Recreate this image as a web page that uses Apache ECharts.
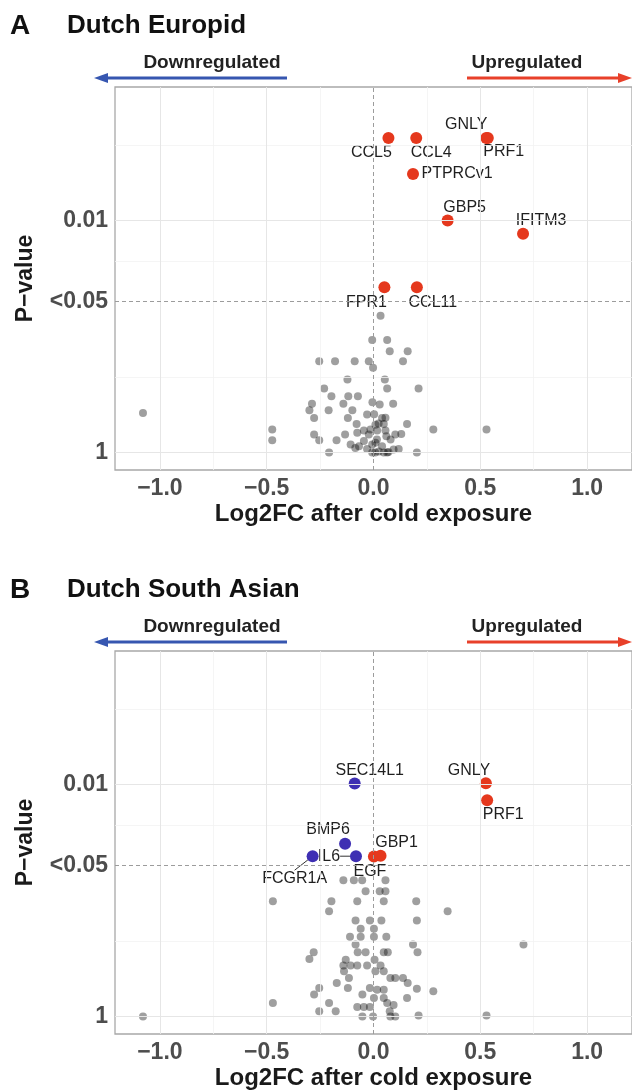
<!DOCTYPE html>
<html>
<head>
<meta charset="utf-8">
<script src="https://cdn.jsdelivr.net/npm/echarts@6/dist/echarts.min.js"></script>
<style>
  html, body { margin: 0; padding: 0; background: #fff; }
  #chart { width: 632px; height: 1092px; }
</style>
</head>
<body>
<div id="chart"></div>
<script>
// values: [log2FC, -log10(p)]
const xTicks = [-1, -0.5, 0, 0.5, 1];
const yTicks = [0, 1.30103, 2];
const yTickLabels = ['1', '<0.05', '0.01'];
const xMinor = [-0.75, -0.25, 0.25, 0.75];
const yMinor = [0.65, 1.65, 2.65];

// A - Dutch Europid
const europidGenes = ['CCL5', 'CCL4', 'GNLY', 'PRF1', 'PTPRCv1', 'GBP5', 'IFITM3', 'FPR1', 'CCL11'];
const europidGeneFC = [0.07, 0.2, 0.528, 0.535, 0.185, 0.347, 0.7, 0.051, 0.203];
const europidGeneP = [2.71, 2.71, 2.71, 2.71, 2.4, 2.0, 1.885, 1.425, 1.425];
const europidOther = [
  [0.033, 1.18], [-0.006, 0.97], [0.064, 0.97], [0.076, 0.873], [0.16, 0.873],
  [-0.254, 0.787], [-0.18, 0.787], [-0.088, 0.787], [-0.022, 0.787], [0.138, 0.787],
  [-0.002, 0.73], [-0.122, 0.63], [0.053, 0.63], [-0.231, 0.552], [0.064, 0.552],
  [0.211, 0.552], [-0.197, 0.485], [-0.118, 0.485], [-0.073, 0.485], [-0.288, 0.42],
  [-0.141, 0.42], [-0.005, 0.434], [0.029, 0.414], [0.092, 0.42], [-0.3, 0.365],
  [-0.21, 0.365], [-0.099, 0.365], [0.003, 0.33], [-1.079, 0.342], [-0.278, 0.298],
  [-0.12, 0.298], [-0.03, 0.328], [0.04, 0.298], [0.056, 0.3], [-0.079, 0.247],
  [0.048, 0.247], [0.157, 0.247], [0.009, 0.24], [0.024, 0.25], [-0.474, 0.198],
  [0.28, 0.198], [0.529, 0.198], [-0.045, 0.19], [-0.014, 0.198], [0.056, 0.19],
  [-0.278, 0.155], [-0.133, 0.155], [-0.022, 0.155], [0.06, 0.141], [0.102, 0.155],
  [0.13, 0.16], [-0.474, 0.106], [-0.254, 0.106], [-0.173, 0.106], [0.016, 0.112],
  [0.08, 0.112], [-0.107, 0.069], [-0.068, 0.054], [-0.045, 0.1], [0.009, 0.084],
  [0.04, 0.054], [-0.006, 0.069], [0.094, 0.026], [0.118, 0.03], [-0.085, 0.04],
  [-0.006, 0], [0.048, 0], [0.025, 0.01], [-0.208, 0], [0.203, 0],
  [0.064, 0], [-0.03, 0.03], [0.008, 0], [0.07, 0.005], [-0.076, 0.17], [0.017, 0.19]
];

// B - Dutch South Asian
const asianUpGenes = ['GNLY', 'PRF1', 'EGF', 'GBP1'];
const asianUpFC = [0.526, 0.532, 0.002, 0.033];
const asianUpP = [2.01, 1.865, 1.38, 1.385];
const asianDownGenes = ['SEC14L1', 'BMP6', 'FCGR1A', 'IL6'];
const asianDownFC = [-0.088, -0.133, -0.285, -0.082];
const asianDownP = [2.009, 1.489, 1.382, 1.382];
const asianOther = [
  [-0.141, 1.175], [-0.092, 1.175], [-0.053, 1.175], [0.056, 1.175],
  [-0.037, 1.08], [0.029, 1.08], [0.056, 1.08],
  [-0.471, 0.994], [-0.197, 0.994], [-0.076, 0.994], [0.048, 0.994], [0.2, 0.994],
  [-0.208, 0.908], [0.347, 0.908],
  [-0.084, 0.828], [-0.017, 0.828], [0.037, 0.828], [0.203, 0.828],
  [-0.06, 0.756], [0.002, 0.756],
  [-0.11, 0.687], [-0.06, 0.687], [0.002, 0.687], [0.06, 0.687],
  [0.702, 0.621], [0.185, 0.621], [-0.084, 0.621],
  [-0.28, 0.554], [-0.074, 0.554], [-0.037, 0.554], [0.048, 0.554], [0.067, 0.554], [0.206, 0.554],
  [-0.3, 0.497], [-0.13, 0.49], [0.005, 0.49],
  [-0.141, 0.44], [-0.107, 0.44], [-0.076, 0.44], [-0.03, 0.44], [0.033, 0.44],
  [0.009, 0.39], [0.048, 0.39], [-0.138, 0.39],
  [-0.115, 0.333], [0.079, 0.333], [0.102, 0.333], [0.138, 0.333],
  [-0.172, 0.29], [0.16, 0.29], [-0.12, 0.247], [-0.017, 0.247], [0.017, 0.232],
  [0.048, 0.232], [0.203, 0.24], [0.28, 0.218], [-0.254, 0.247], [-0.278, 0.19],
  [-0.052, 0.19], [0.002, 0.161], [0.048, 0.161], [0.157, 0.161],
  [-0.471, 0.118], [-0.208, 0.118], [0.064, 0.118], [0.094, 0.1],
  [-0.076, 0.083], [-0.045, 0.083], [-0.017, 0.083],
  [-0.254, 0.046], [-0.177, 0.046], [0.076, 0.046],
  [-0.052, 0], [-0.002, 0], [0.079, 0], [0.102, 0], [0.211, 0.01], [0.529, 0.01], [-1.079, 0]
];

// label nudges (px), keyed by gene
const nudgeA = {
  CCL5: [-17, 15], CCL4: [15, 15], GNLY: [-20, -13], PRF1: [16, 14], PTPRCv1: [44, 0],
  GBP5: [17, -13], IFITM3: [18, -13], FPR1: [-18, 15], CCL11: [16, 15]
};
const nudgeBUp = { GNLY: [-17, -13], PRF1: [16, 14], EGF: [-4, 15], GBP1: [16, -13] };
const nudgeBDown = { SEC14L1: [15, -13], BMP6: [-17, -14], FCGR1A: [-18, 22], IL6: [-27, 0] };
const leaderGenes = ['FCGR1A', 'IL6'];

const RED = '#e5381d';
const BLUE = '#3e2fb3';
const FONT = '"Liberation Sans", Arial, Helvetica, sans-serif';

const chart = echarts.init(document.getElementById('chart'));

function gridLines(i) {
  const major = { color: '#e6e6e6', width: 1, type: 'solid' };
  const minor = { color: '#f2f2f2', width: 0.8, type: 'solid' };
  const dash = { color: '#9c9c9c', width: 1, type: [4, 3] };
  const data = [];
  xMinor.forEach(v => data.push({ xAxis: v, lineStyle: minor }));
  yMinor.forEach(v => data.push({ yAxis: v, lineStyle: minor }));
  xTicks.filter(v => v !== 0).forEach(v => data.push({ xAxis: v, lineStyle: major }));
  yTicks.filter((v, k) => k !== 1).forEach(v => data.push({ yAxis: v, lineStyle: major }));
  data.push({ xAxis: 0, lineStyle: dash });
  data.push({ yAxis: yTicks[1], lineStyle: dash });
  return {
    type: 'scatter', xAxisIndex: i, yAxisIndex: i, data: [], z: 1, silent: true,
    markLine: { silent: true, symbol: 'none', label: { show: false }, animation: false, data: data }
  };
}

function others(i, pts) {
  return {
    type: 'scatter', xAxisIndex: i, yAxisIndex: i, z: 2, symbolSize: 8,
    itemStyle: { color: 'rgba(0,0,0,0.47)' }, data: pts
  };
}

function genes(i, names, fc, p, color, nudge) {
  return {
    type: 'scatter', xAxisIndex: i, yAxisIndex: i, z: 4, symbolSize: 12,
    itemStyle: { color: color, opacity: 1 },
    label: {
      show: true, position: 'inside', formatter: '{b}',
      color: '#1f1f1f', fontSize: 16, fontFamily: FONT
    },
    labelLine: { show: false, lineStyle: { color: '#333', width: 1 } },
    labelLayout: function (prm) {
      const o = nudge[names[prm.dataIndex]];
      return { dx: o[0], dy: o[1] };
    },
    data: names.map((n, k) => {
      const d = { name: n, value: [fc[k], p[k]] };
      if (leaderGenes.indexOf(n) >= 0) d.labelLine = { show: true };
      return d;
    })
  };
}

function xAxis(i) {
  return {
    gridIndex: i, type: 'value', min: -1.21, max: 1.21,
    name: 'Log2FC after cold exposure', nameLocation: 'middle', nameGap: 32,
    nameTextStyle: { fontSize: 24, fontWeight: 'bold', color: '#1a1a1a', fontFamily: FONT },
    axisLine: { show: false }, splitLine: { show: false },
    axisTick: { show: true, length: 4, customValues: xTicks, lineStyle: { color: '#666' } },
    axisLabel: {
      customValues: xTicks, margin: 7, fontSize: 23, fontWeight: 'bold', color: '#4d4d4d', fontFamily: FONT,
      formatter: v => (v < 0 ? '\u2212' : '') + Math.abs(v).toFixed(1)
    }
  };
}

function yAxis(i) {
  return {
    gridIndex: i, type: 'value', min: -0.15, max: 3.15,
    name: 'P\u2212value', nameLocation: 'middle', nameGap: 78, nameRotate: 90,
    nameTextStyle: { fontSize: 23, fontWeight: 'bold', color: '#1a1a1a', fontFamily: FONT },
    axisLine: { show: false }, splitLine: { show: false },
    axisTick: { show: true, length: 4, customValues: yTicks, lineStyle: { color: '#666' } },
    axisLabel: {
      customValues: yTicks, margin: 7, fontSize: 23, fontWeight: 'bold', color: '#4d4d4d', fontFamily: FONT,
      formatter: v => yTickLabels[yTicks.findIndex(t => Math.abs(t - v) < 1e-6)]
    }
  };
}

function header(letter, title, y0) {
  // y0 = top of the plot panel
  const ya = y0 - 9, yt = y0 - 24, yh = y0 - 61;
  return [
    { type: 'text', x: 10, y: yh, style: { text: letter, font: 'bold 28px ' + FONT, fill: '#111', textVerticalAlign: 'middle' } },
    { type: 'text', x: 67, y: yh, style: { text: title, font: 'bold 26px ' + FONT, fill: '#111', textVerticalAlign: 'middle' } },
    { type: 'text', x: 212, y: yt, style: { text: 'Downregulated', font: 'bold 19px ' + FONT, fill: '#222', textAlign: 'center', textVerticalAlign: 'middle' } },
    { type: 'line', shape: { x1: 104, y1: ya, x2: 287, y2: ya }, style: { stroke: '#3656b0', lineWidth: 3 } },
    { type: 'polygon', shape: { points: [[94, ya], [108, ya - 5], [108, ya + 5]] }, style: { fill: '#3656b0' } },
    { type: 'text', x: 527, y: yt, style: { text: 'Upregulated', font: 'bold 19px ' + FONT, fill: '#222', textAlign: 'center', textVerticalAlign: 'middle' } },
    { type: 'line', shape: { x1: 467, y1: ya, x2: 622, y2: ya }, style: { stroke: '#e8402a', lineWidth: 3 } },
    { type: 'polygon', shape: { points: [[632, ya], [618, ya - 5], [618, ya + 5]] }, style: { fill: '#e8402a' } }
  ];
}

const option = {
  animation: false,
  backgroundColor: '#ffffff',
  textStyle: { fontFamily: FONT },
  grid: [
    { left: 115, top: 87, width: 518, height: 383, show: true, borderColor: '#a8a8a8', borderWidth: 1.3, backgroundColor: '#fff' },
    { left: 115, top: 651, width: 518, height: 383, show: true, borderColor: '#a8a8a8', borderWidth: 1.3, backgroundColor: '#fff' }
  ],
  xAxis: [xAxis(0), xAxis(1)],
  yAxis: [yAxis(0), yAxis(1)],
  graphic: header('A', 'Dutch Europid', 87).concat(header('B', 'Dutch South Asian', 651)),
  series: [
    gridLines(0),
    others(0, europidOther),
    genes(0, europidGenes, europidGeneFC, europidGeneP, RED, nudgeA),
    gridLines(1),
    others(1, asianOther),
    genes(1, asianUpGenes, asianUpFC, asianUpP, RED, nudgeBUp),
    genes(1, asianDownGenes, asianDownFC, asianDownP, BLUE, nudgeBDown)
  ]
};

chart.setOption(option);
</script>
</body>
</html>
